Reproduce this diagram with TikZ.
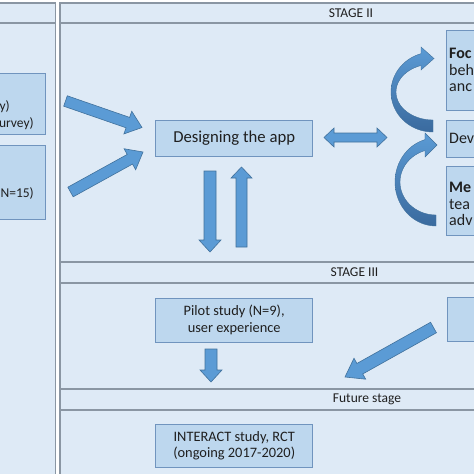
\documentclass[tikz,border=0pt]{standalone}
\usepackage{fontspec}
\setmainfont{Carlito}
\usetikzlibrary{calc}
\definecolor{panelfill}{HTML}{DEEAF6}
\definecolor{panelline}{HTML}{8A96A3}
\definecolor{boxfill}{HTML}{BDD7EE}
\definecolor{boxline}{HTML}{7094BE}
\definecolor{arrfill}{HTML}{5B9BD5}
\definecolor{arrline}{HTML}{41719C}
\definecolor{arrdark}{HTML}{3A6A9E}
\definecolor{txt}{HTML}{1F1F1F}
\newcommand{\blockarr}[5]{%
  \coordinate (tmph) at ($(#2)!#5!(#1)$);
  \filldraw[blockarrow] ($(#1)!#3!90:(#2)$) -- ($(tmph)!#3!-90:(#1)$) -- ($(tmph)!#4!-90:(#1)$) -- (#2) -- ($(tmph)!#4!90:(#1)$) -- ($(tmph)!#3!90:(#1)$) -- ($(#1)!#3!-90:(#2)$) -- cycle;}
\newcommand{\blockarrtwo}[5]{%
  \coordinate (tmpa) at ($(#1)!#5!(#2)$);
  \coordinate (tmpb) at ($(#2)!#5!(#1)$);
  \filldraw[blockarrow] (#1) -- ($(tmpa)!#4!90:(#2)$) -- ($(tmpa)!#3!90:(#2)$) -- ($(tmpb)!#3!-90:(#1)$) -- ($(tmpb)!#4!-90:(#1)$) -- (#2) -- ($(tmpb)!#4!90:(#1)$) -- ($(tmpb)!#3!90:(#1)$) -- ($(tmpa)!#3!-90:(#2)$) -- ($(tmpa)!#4!-90:(#2)$) -- cycle;}
\begin{document}
\begin{tikzpicture}[x=1pt,y=-1pt,
  panel/.style={fill=panelfill, draw=panelline, line width=1.4pt},
  sepline/.style={draw=panelline, line width=1.4pt},
  box/.style={fill=boxfill, draw=boxline, line width=0.8pt, inner sep=0pt, text=txt, align=center,
    font=\fontsize{14.4}{16.5}\selectfont},
  bigbox/.style={box, font=\fontsize{16.7}{19}\selectfont},
  btext/.style={inner sep=0pt, text=txt, font=\fontsize{13.5}{16.5}\selectfont},
  rtext/.style={inner sep=0pt, text=txt, font=\fontsize{16}{17}\selectfont},
  hdr/.style={inner sep=0pt, text=txt, font=\fontsize{13.5}{15}\selectfont},
  blockarrow/.style={fill=arrfill, draw=arrline, line width=0.6pt, line join=miter},
  curvearrow/.style={top color=arrfill, bottom color=arrdark, draw=arrline, line width=0.4pt}
]
\useasboundingbox (0,0) rectangle (474,474);
\fill[white] (0,0) rectangle (474,474);
% panels
\draw[panel] (-10,3) rectangle (55.7,490);
\draw[sepline] (-10,23) -- (55.7,23);
\draw[panel] (60,3) rectangle (490,490);
\draw[sepline] (60,23) -- (490,23);
\draw[sepline] (60,262) -- (490,262);
\draw[sepline] (60,283) -- (490,283);
\draw[sepline] (60,389) -- (490,389);
\draw[sepline] (60,410) -- (490,410);
\node[hdr] (s2) at (351,13) {STAGE II};
\node[hdr] (s3) at (354.5,272.5) {STAGE III};
\node[hdr] (fs) at (367,399.5) {Future stage};
% left boxes
\node[box, minimum width=60pt, minimum height=61pt] (lb1) at (15,103.5) {};
\node[btext, anchor=base east] (lb1a) at (10,110) {y)};
\node[btext, anchor=base east] (lb1b) at (34,127) {urvey)};
\node[box, minimum width=60pt, minimum height=74pt] (lb2) at (15,182) {};
\node[btext, anchor=base east] (lb2a) at (34,197) {N=15)};
% centre boxes
\node[bigbox, minimum width=157pt, minimum height=36.7pt] (design) at (234.2,138.35) {Designing the app};
\node[box, minimum width=157pt, minimum height=44pt] (pilot) at (234.2,320) {Pilot study (N=9),\\user experience};
\node[box, minimum width=157pt, minimum height=43pt] (rct) at (234.2,445.5) {INTERACT study, RCT\\(ongoing 2017-2020)};
% right boxes
\node[box, minimum width=74pt, minimum height=80pt] (focus) at (483,70) {};
\node[rtext, anchor=base west] (fa) at (449,58) {\textbf{Foc}};
\node[rtext, anchor=base west] (fb) at (449,75) {beh};
\node[rtext, anchor=base west] (fc) at (449,91.5) {anc};
\node[box, minimum width=74pt, minimum height=37pt] (dev) at (483,138.5) {};
\node[rtext, anchor=base west] (da) at (449,143.5) {Dev};
\node[box, minimum width=74pt, minimum height=69pt] (meth) at (483,200.5) {};
\node[rtext, anchor=base west] (ma) at (449,192.5) {\textbf{Me}};
\node[rtext, anchor=base west] (mb) at (449,209) {tea};
\node[rtext, anchor=base west] (mc) at (449,225.5) {adv};
\node[box, minimum width=73pt, minimum height=44pt] (rb3) at (483.5,319) {};
% arrow end points
\coordinate (a1s) at (65.5,101);   \coordinate (a1e) at (142,127.5);
\coordinate (a2s) at (70.5,192);   \coordinate (a2e) at (143,152);
\coordinate (a3s) at (210,171);    \coordinate (a3e) at (210,252);
\coordinate (a4s) at (241.5,247);  \coordinate (a4e) at (241.5,167);
\coordinate (a5s) at (324,137.5);  \coordinate (a5e) at (387,137.5);
\coordinate (a6s) at (211,349);    \coordinate (a6e) at (211,382);
\coordinate (a7s) at (433.5,327.5);\coordinate (a7e) at (345,377);
\blockarr{a1s}{a1e}{5.5pt}{12pt}{15pt}
\blockarr{a2s}{a2e}{5.5pt}{12pt}{15pt}
\blockarr{a3s}{a3e}{6pt}{11pt}{12pt}
\blockarr{a4s}{a4e}{5.5pt}{10.5pt}{11pt}
\blockarrtwo{a5s}{a5e}{4.5pt}{9.5pt}{10pt}
\blockarr{a6s}{a6e}{6pt}{11pt}{12pt}
\blockarr{a7s}{a7e}{6pt}{12pt}{17pt}
% curved arrows
\shade[curvearrow]
  plot[domain=90:253.4, samples=40] ({433+42*cos(\x)},{92+40*sin(\x)})
  -- (421,47) -- (434,58.5) -- (421,70)
  -- plot[domain=251.1:90, samples=40] ({433+37*cos(\x)},{92+28*sin(\x)}) -- cycle;
\shade[curvearrow]
  plot[domain=90:254.4, samples=40] ({436+41*cos(\x)},{182+44*sin(\x)})
  -- (425,133) -- (437,145) -- (425,157)
  -- plot[domain=252.2:90, samples=40] ({436+36*cos(\x)},{182+33*sin(\x)}) -- cycle;
\end{tikzpicture}
\end{document}
